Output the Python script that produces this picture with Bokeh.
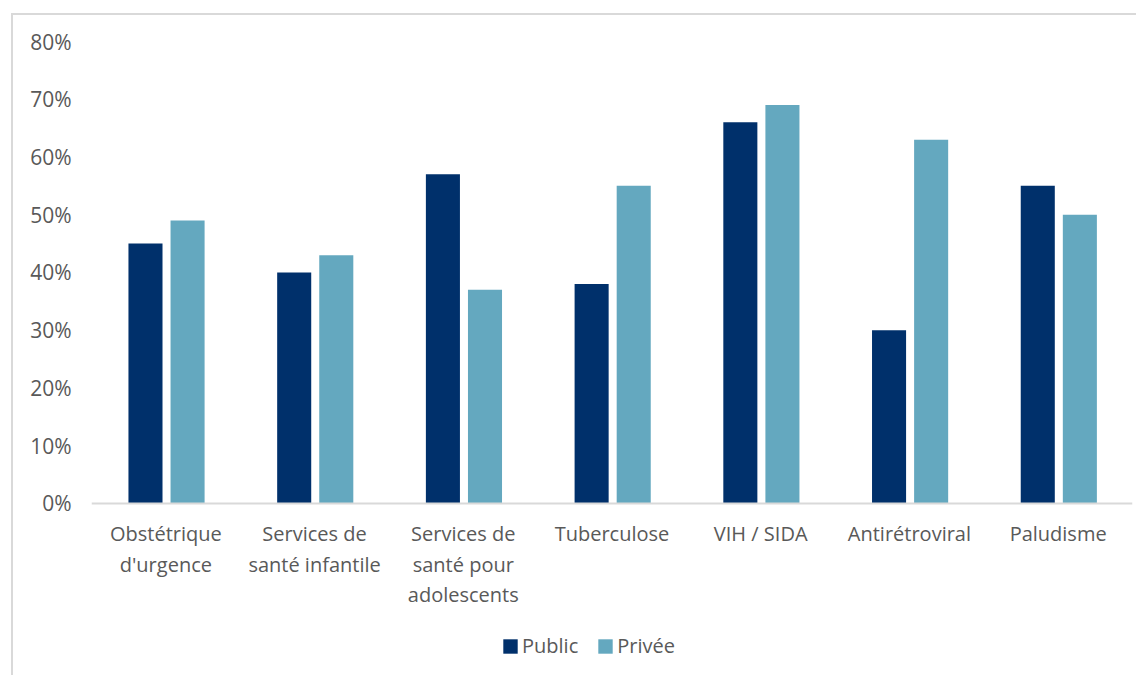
from bokeh.plotting import figure
from bokeh.models import ColumnDataSource, FactorRange, Range1d, NumeralTickFormatter, Legend, LegendItem, FixedTicker
from bokeh.transform import dodge
from bokeh.embed import file_html
from bokeh.resources import INLINE

categories = ["Obstétrique\nd'urgence", "Services de\nsanté infantile", "Services de\nsanté pour\nadolescents",
              "Tuberculose", "VIH / SIDA", "Antirétroviral", "Paludisme"]
public = [0.45, 0.40, 0.57, 0.38, 0.66, 0.30, 0.55]
privee = [0.49, 0.43, 0.37, 0.55, 0.69, 0.63, 0.50]
series_names = ["Public", "Privée"]
y_ticks = [0, 0.1, 0.2, 0.3, 0.4, 0.5, 0.6, 0.7, 0.8]

FONT = "Open Sans"
GRAY = "#595959"

src = ColumnDataSource(dict(cat=categories, public=public, privee=privee))

# frame extends below the 0% baseline so the legend can sit inside it
p = figure(x_range=FactorRange(*categories), y_range=Range1d(-0.2875, 0.8),
           frame_width=1041, frame_height=628, output_backend="svg", toolbar_location=None,
           min_border_left=78, min_border_right=4, min_border_top=26, min_border_bottom=10)
p.styles = {"margin-left": "11px", "margin-top": "13px",
            "border-left": "2px solid #D9D9D9", "border-top": "2px solid #D9D9D9"}
p.outline_line_color = None
p.xgrid.grid_line_color = None
p.ygrid.grid_line_color = None
p.x_range.range_padding = 0
p.x_range.group_padding = 0

r1 = p.vbar(x=dodge("cat", -0.137, range=p.x_range), top="public", width=0.229, source=src,
            fill_color="#00306B", line_color=None)
r2 = p.vbar(x=dodge("cat", 0.146, range=p.x_range), top="privee", width=0.229, source=src,
            fill_color="#64A8BF", line_color=None)

p.yaxis.ticker = FixedTicker(ticks=y_ticks)
p.yaxis.formatter = NumeralTickFormatter(format="0%")
p.yaxis.axis_line_color = None
p.yaxis.major_tick_line_color = None
p.yaxis.minor_tick_line_color = None
p.yaxis.major_label_text_font = FONT
p.yaxis.major_label_text_font_size = "21px"
p.yaxis.major_label_text_color = GRAY
p.yaxis.major_label_standoff = 14

p.xaxis.fixed_location = 0
p.xaxis.axis_line_color = "#D9D9D9"
p.xaxis.axis_line_width = 2
p.xaxis.major_tick_line_color = None
p.xaxis.minor_tick_line_color = None
p.xaxis.major_label_text_font = FONT
p.xaxis.major_label_text_font_size = "20px"
p.xaxis.major_label_text_color = GRAY
p.xaxis.major_label_standoff = 11
p.xaxis.major_label_text_line_height = 1.13

legend = Legend(items=[LegendItem(label=series_names[0], renderers=[r1]),
                       LegendItem(label=series_names[1], renderers=[r2])],
                orientation="horizontal", location=(410, 10), padding=0, margin=0,
                spacing=18, glyph_width=18, glyph_height=18, label_standoff=3,
                label_text_font=FONT, label_text_font_size="20px", label_text_color=GRAY,
                border_line_color=None, background_fill_alpha=0)
p.add_layout(legend, "center")

open("out.html", "w").write(file_html(p, INLINE))
